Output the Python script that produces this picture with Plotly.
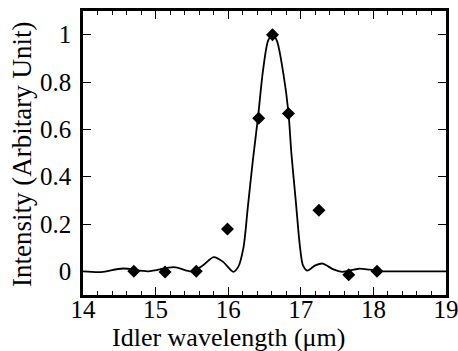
import plotly.graph_objects as go

# Measured points (diamonds)
meas_x = [14.70, 15.13, 15.56, 15.99, 16.42, 16.61, 16.83, 17.25, 17.66, 18.05]
meas_y = [0.0, -0.003, 0.0, 0.179, 0.647, 1.0, 0.667, 0.258, -0.014, 0.0]

# Calculated curve
curve_x = [14.0, 14.25, 14.55, 14.9, 15.25, 15.5, 15.65, 15.8, 15.93, 16.07, 16.14,
           16.21, 16.27, 16.34, 16.41, 16.48, 16.55, 16.61, 16.67, 16.76, 16.83,
           16.87, 16.93, 16.99, 17.03, 17.09, 17.2, 17.3, 17.45, 17.57, 17.8,
           17.95, 18.15, 18.5, 19.0]
curve_y = [0.0, -0.003, 0.012, 0.0, 0.018, 0.0, 0.025, 0.06, 0.04, -0.002, 0.02,
           0.10, 0.27, 0.47, 0.65, 0.85, 0.975, 1.0, 0.975, 0.835, 0.67,
           0.50, 0.30, 0.10, 0.025, 0.003, 0.025, 0.033, 0.008, -0.002, 0.011,
           0.007, 0.0, 0.0, 0.0]

x_ticks = [14, 15, 16, 17, 18, 19]
y_ticks = [0, 0.2, 0.4, 0.6, 0.8, 1]
y_tick_labels = ["0", "0.2", "0.4", "0.6", "0.8", "1"]

x_title = "Idler wavelength (μm)"
y_title = "Intensity (Arbitary Unit)"

fig = go.Figure()
fig.add_trace(go.Scatter(x=curve_x, y=curve_y, mode="lines",
                         line=dict(color="black", width=1.8, shape="spline", smoothing=0.8),
                         showlegend=False, hoverinfo="skip"))
fig.add_trace(go.Scatter(x=meas_x, y=meas_y, mode="markers",
                         marker=dict(symbol="diamond", size=10, color="black"),
                         showlegend=False))

font_family = "Liberation Serif, Times New Roman, serif"
fig.update_layout(
    width=458, height=351,
    margin=dict(l=83, r=12, t=11, b=56),
    paper_bgcolor="white", plot_bgcolor="white",
    font=dict(family=font_family, color="black", size=25),
    xaxis=dict(
        range=[14, 19], tickvals=x_ticks, ticks="inside", ticklen=8, tickwidth=1.2,
        tickcolor="black", showline=True, linewidth=2.5, linecolor="black",
        mirror="allticks", showgrid=False, zeroline=False, automargin=False,
        tickfont=dict(size=25), ticklabelstandoff=-10, ticklabeloverflow="allow",
        minor=dict(dtick=0.2, ticks="inside", ticklen=4, tickwidth=1, tickcolor="black", showgrid=False),
    ),
    yaxis=dict(
        range=[-0.1, 1.1], tickvals=y_ticks, ticktext=y_tick_labels, ticks="inside",
        ticklen=8, tickwidth=1.2, tickcolor="black", showline=True, linewidth=2.5,
        linecolor="black", mirror="allticks", showgrid=False, zeroline=False,
        automargin=False, tickfont=dict(size=25), ticklabelstandoff=4,
    ),
    annotations=[
        dict(text=x_title, xref="paper", yref="paper", x=0.40, y=-0.150,
             xanchor="center", yanchor="middle", showarrow=False, font=dict(size=26)),
        dict(text=y_title, xref="paper", yref="paper", x=-0.168, y=0.493,
             xanchor="center", yanchor="middle", textangle=-90, showarrow=False,
             font=dict(size=27)),
    ],
)

fig.write_html("out.html", config={"displayModeBar": False},
               post_script="document.body.style.margin='0px';")
